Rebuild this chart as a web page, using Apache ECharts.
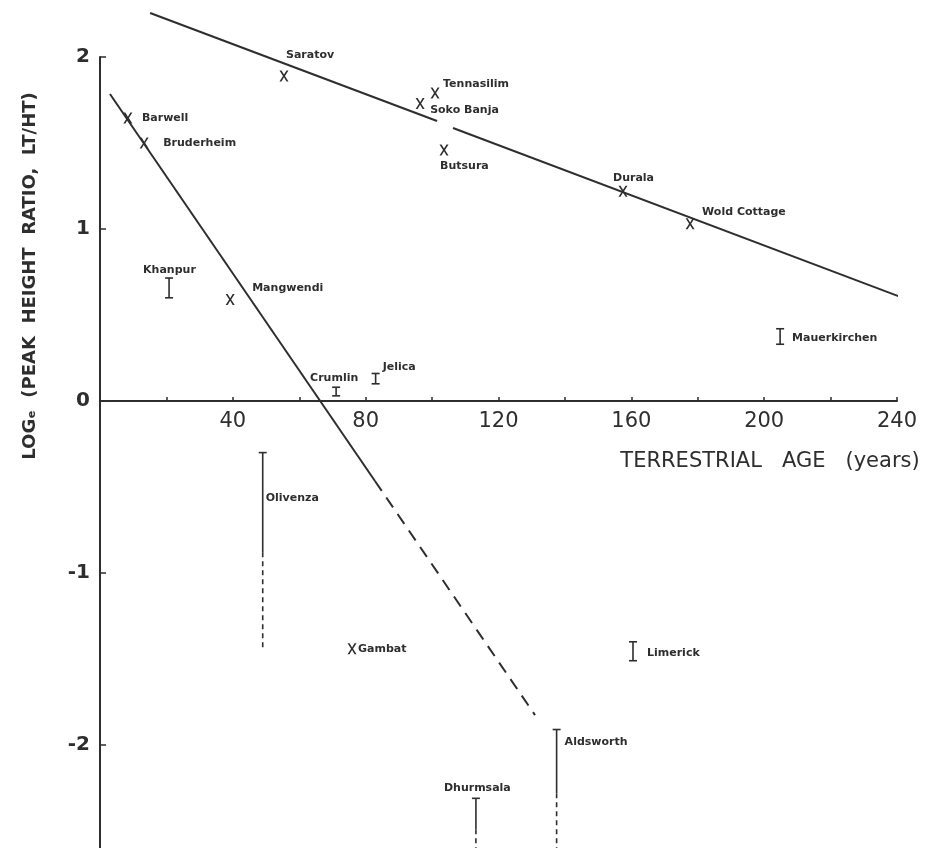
<!DOCTYPE html>
<html>
<head>
<meta charset="utf-8">
<script src="https://cdn.jsdelivr.net/npm/echarts@6/dist/echarts.min.js"></script>
<style>
  html, body { margin: 0; padding: 0; background: #fff; }
  #main { width: 934px; height: 848px; }
</style>
</head>
<body>
<div id="main"></div>
<script>
// meteorites plotted as single points (X)
var ptNames = ['Saratov', 'Tennasilim', 'Soko Banja', 'Butsura', 'Durala', 'Wold Cottage', 'Barwell', 'Bruderheim', 'Mangwendi', 'Gambat'];
var ptAge = [55.4, 100.9, 96.4, 103.6, 157.5, 177.7, 8.4, 13.3, 39.2, 75.9];
var ptLog = [1.89, 1.79, 1.73, 1.46, 1.22, 1.03, 1.645, 1.50, 0.59, -1.44];

// meteorites plotted as ranges (I); lowerLimit = dashed extension (null = none)
var barNames = ['Khanpur', 'Crumlin', 'Jelica', 'Mauerkirchen', 'Olivenza', 'Limerick', 'Aldsworth', 'Dhurmsala'];
var barAge = [20.8, 71.1, 83, 204.8, 49, 160.5, 137.5, 113.2];
var barHigh = [0.715, 0.08, 0.16, 0.42, -0.30, -1.40, -1.91, -2.31];
var barLow = [0.60, 0.03, 0.10, 0.33, -0.88, -1.51, -2.28, -2.49];
var barLowerLimit = [null, null, null, null, -1.45, null, -2.6, -2.6];

// fitted lines (age, log ratio)
var upperLineA = [[15.1, 2.256], [101.5, 1.628]];
var upperLineB = [[106.3, 1.587], [245, 0.576]];
var steepLine = [[3, 1.785], [82.8, -0.465]];
var steepLineDashed = [[82.8, -0.465], [131, -1.826]];

// tick labels
var xTicks = [40, 80, 120, 160, 200, 240];
var yTicks = [-2, -1, 0, 1, 2];

// label placement in pixels (text left edge / middle, from the mark)
var ptLabelOffset = {
    'Saratov': [2, -21], 'Tennasilim': [8, -9], 'Soko Banja': [10, 7], 'Butsura': [-4, 16],
    'Durala': [-10, -13], 'Wold Cottage': [12, -12], 'Barwell': [14, 0], 'Bruderheim': [19, 0],
    'Mangwendi': [22, -11], 'Gambat': [6, 0]
};
var barLabelOffset = {
    'Khanpur': [-26, -8], 'Crumlin': [-26, -9], 'Jelica': [7, -6], 'Mauerkirchen': [12, 9],
    'Olivenza': [3, 46], 'Limerick': [14, 11], 'Aldsworth': [8, 13], 'Dhurmsala': [-32, -10]
};

var ink = '#2e2e2e';
var labelFont = 'bold 11px "DejaVu Sans"';

var myChart = echarts.init(document.getElementById('main'));

var ptData = ptNames.map(function (n, i) {
    return {
        name: n,
        value: [ptAge[i], ptLog[i]],
        label: { offset: ptLabelOffset[n] }
    };
});

var barData = barNames.map(function (n, i) {
    return { name: n, value: [barAge[i], barHigh[i], barLow[i], barLowerLimit[i] === null ? '-' : barLowerLimit[i]] };
});

function renderBar(params, api) {
    var i = params.dataIndex;
    var x = api.value(0);
    var top = api.coord([x, api.value(1)]);
    var bot = api.coord([x, api.value(2)]);
    var ext = barLowerLimit[i];
    var off = barLabelOffset[barNames[i]];
    var children = [
        { type: 'line', shape: { x1: top[0], y1: top[1], x2: bot[0], y2: bot[1] }, style: { stroke: ink, lineWidth: 1.6 } },
        { type: 'line', shape: { x1: top[0] - 4, y1: top[1], x2: top[0] + 4, y2: top[1] }, style: { stroke: ink, lineWidth: 1.6 } }
    ];
    if (ext === null) {
        children.push({ type: 'line', shape: { x1: bot[0] - 4, y1: bot[1], x2: bot[0] + 4, y2: bot[1] }, style: { stroke: ink, lineWidth: 1.6 } });
    } else {
        var e = api.coord([x, ext]);
        children.push({ type: 'line', shape: { x1: bot[0], y1: bot[1], x2: e[0], y2: e[1] }, style: { stroke: ink, lineWidth: 1.6, lineDash: [5, 4] } });
    }
    children.push({
        type: 'text',
        style: {
            text: barNames[i], x: top[0] + off[0], y: top[1] + off[1],
            fill: ink, font: labelFont,
            align: 'left', verticalAlign: 'middle', textAlign: 'left', textVerticalAlign: 'middle'
        }
    });
    return { type: 'group', children: children };
}

var lineStyle = { color: ink, width: 2 };

// grid spans y = -3 .. 2 (172 px per unit); the x axis is shifted up to y = 0
var option = {
    backgroundColor: '#fff',
    animation: false,
    grid: { left: 100, width: 797, top: 57, height: 860, outerBoundsMode: 'none', containLabel: false },
    xAxis: {
        type: 'value', min: 0, max: 240, interval: 20,
        offset: -516,
        splitLine: { show: false },
        axisLine: { onZero: false, lineStyle: { color: ink, width: 2 } },
        axisTick: { inside: true, length: 4, lineStyle: { color: ink, width: 1.5 } },
        axisLabel: {
            color: ink, fontSize: 21, fontFamily: 'DejaVu Sans', margin: 10,
            formatter: function (v) { return xTicks.indexOf(v) >= 0 ? String(v) : ''; }
        }
    },
    yAxis: {
        type: 'value', min: -3, max: 2, interval: 1,
        splitLine: { show: false },
        axisLine: { lineStyle: { color: ink, width: 2 } },
        axisTick: { inside: true, length: 6, lineStyle: { color: ink, width: 1.5 } },
        axisLabel: {
            color: ink, fontSize: 20, fontWeight: 'bold', fontFamily: 'DejaVu Sans', margin: 10,
            formatter: function (v) { return yTicks.indexOf(v) >= 0 ? String(v) : ''; }
        }
    },
    graphic: [
        {
            type: 'text', x: 30, y: 276, rotation: Math.PI / 2,
            style: {
                text: 'LOGₑ  (PEAK  HEIGHT  RATIO,  LT/HT)',
                fill: ink, font: 'bold 18px "DejaVu Sans"',
                align: 'center', verticalAlign: 'middle', textAlign: 'center', textVerticalAlign: 'middle'
            }
        },
        {
            type: 'text', x: 770, y: 462,
            style: {
                text: 'TERRESTRIAL   AGE   (years)',
                fill: ink, font: '21px "DejaVu Sans"',
                align: 'center', verticalAlign: 'middle', textAlign: 'center', textVerticalAlign: 'middle'
            }
        }
    ],
    series: [
        { type: 'line', data: upperLineA, symbol: 'none', clip: false, lineStyle: lineStyle },
        { type: 'line', data: upperLineB, symbol: 'none', clip: false, lineStyle: lineStyle },
        { type: 'line', data: steepLine, symbol: 'none', clip: false, lineStyle: lineStyle },
        { type: 'line', data: steepLineDashed, symbol: 'none', clip: false, lineStyle: { color: ink, width: 2, type: [12, 8] } },
        {
            type: 'scatter',
            data: ptData,
            symbol: 'path://M0,0L2.2,0L5,4.2L7.8,0L10,0L6.1,5.5L10,11L7.8,11L5,6.8L2.2,11L0,11L3.9,5.5Z',
            symbolSize: [9, 11],
            itemStyle: { color: ink, opacity: 1 },
            label: {
                show: true, position: 'inside', align: 'left', verticalAlign: 'middle',
                formatter: '{b}', color: ink, fontSize: 11, fontWeight: 'bold', fontFamily: 'DejaVu Sans'
            }
        },
        { type: 'custom', data: barData, renderItem: renderBar, clip: false }
    ]
};

myChart.setOption(option);
</script>
</body>
</html>
